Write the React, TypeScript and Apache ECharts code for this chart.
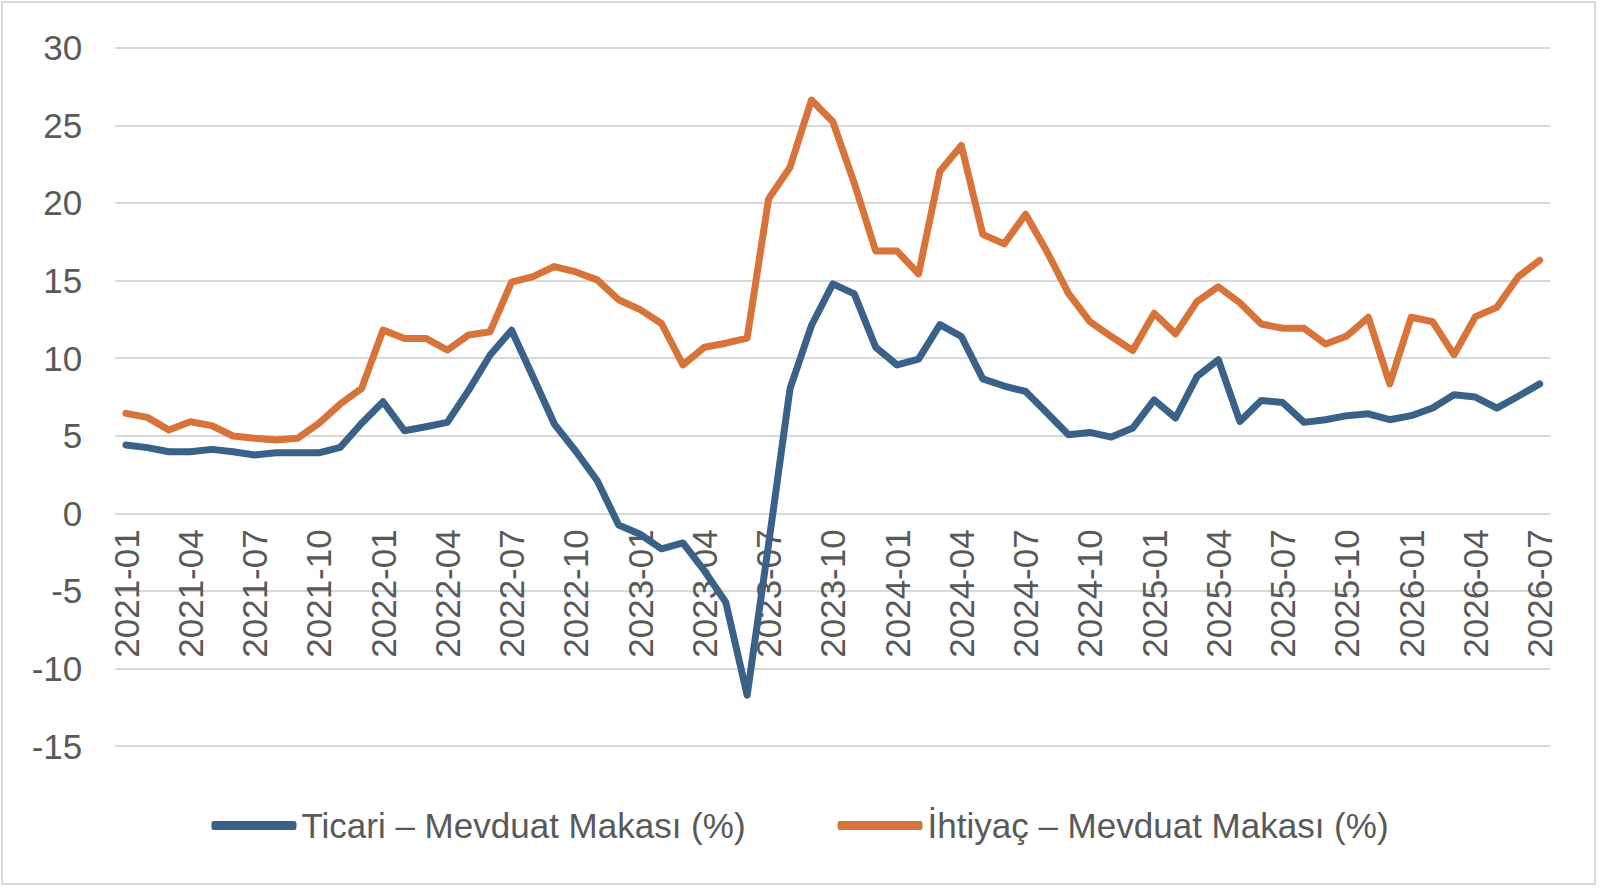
import React, { useEffect, useRef } from "react";
import * as echarts from "echarts";

const categories: string[] = [];
for (let y = 2021; y <= 2026; y++) {
  for (let m = 1; m <= 12; m++) {
    if (y === 2026 && m > 7) break;
    categories.push(`${y}-${String(m).padStart(2, "0")}`);
  }
}

const ticariValues = [
  4.4, 4.23, 3.97, 3.97, 4.12, 3.97, 3.76, 3.9, 3.9, 3.9, 4.25, 5.8,
  7.19, 5.32, 5.58, 5.86, 7.94, 10.2, 11.8, 8.8, 5.75, 4.0, 2.1, -0.75,
  -1.35, -2.29, -1.91, -3.7, -5.73, -11.72, -2.0, 8.03, 12.1, 14.78, 14.14, 10.7,
  9.56, 9.94, 12.16, 11.39, 8.66, 8.2, 7.85, 6.46, 5.06, 5.21, 4.91, 5.49,
  7.31, 6.14, 8.81, 9.89, 5.92, 7.27, 7.14, 5.86, 6.03, 6.29, 6.41, 6.03,
  6.29, 6.78, 7.64, 7.49, 6.78, 7.54, 8.34,
];

const ihtiyacValues = [
  6.44, 6.18, 5.37, 5.9, 5.65, 4.98, 4.83, 4.72, 4.83, 5.8, 7.04, 8.05,
  11.81, 11.27, 11.27, 10.52, 11.49, 11.7, 14.9, 15.25, 15.9, 15.55, 15.04, 13.76,
  13.12, 12.23, 9.56, 10.7, 10.96, 11.29, 20.26, 22.3, 26.63, 25.23, 21.28, 16.9,
  16.9, 15.42, 22.04, 23.7, 17.97, 17.36, 19.27, 16.85, 14.17, 12.35, 11.39, 10.49,
  12.89, 11.56, 13.64, 14.6, 13.57, 12.2, 11.92, 11.92, 10.91, 11.43, 12.63, 8.34,
  12.63, 12.35, 10.21, 12.67, 13.27, 15.24, 16.31,
];

const seriesNames = ["Ticari – Mevduat Makası (%)", "İhtiyaç – Mevduat Makası (%)"];
const seriesColors = ["#3a6187", "#d8733a"];

export default function App() {
  const ref = useRef<HTMLDivElement>(null);
  useEffect(() => {
    if (!ref.current) return;
    const chart = echarts.init(ref.current, undefined, { renderer: "svg" });
    const font = "'Liberation Sans', Arial, sans-serif";
    const gridTop = 47.7;
    const gridBottomPx = 746.1;
    const zeroOffset = -((gridBottomPx - gridTop) * 15) / 45;
    chart.setOption({
      animation: false,
      backgroundColor: "#ffffff",
      graphic: [
        {
          type: "rect",
          shape: { x: 2, y: 2, width: 1593, height: 882 },
          style: { fill: "none", stroke: "#d9d9d9", lineWidth: 2 },
          silent: true,
        },
      ],
      grid: { left: 115.3, right: 49.6, top: gridTop, bottom: 889 - gridBottomPx, containLabel: false },
      legend: {
        top: 803,
        left: "center",
        icon: "roundRect",
        itemWidth: 85,
        itemHeight: 9,
        itemGap: 92,
        textStyle: { fontSize: 35, color: "#595959", fontFamily: font },
        data: seriesNames,
      },
      xAxis: {
        type: "category",
        data: categories,
        boundaryGap: true,
        position: "bottom",
        offset: zeroOffset,
        axisLine: { show: false, onZero: false },
        axisTick: { show: false },
        axisLabel: {
          interval: 2,
          rotate: 90,
          margin: 16,
          fontSize: 35,
          color: "#595959",
          fontFamily: font,
        },
        splitLine: { show: false },
      },
      yAxis: {
        type: "value",
        min: -15,
        max: 30,
        interval: 5,
        axisLine: { show: false },
        axisTick: { show: false },
        axisLabel: { fontSize: 35, color: "#595959", fontFamily: font, margin: 33 },
        splitLine: { lineStyle: { color: "#d9d9d9", width: 2 } },
      },
      series: [
        {
          name: seriesNames[0],
          type: "line",
          data: ticariValues,
          symbol: "none",
          color: seriesColors[0],
          lineStyle: { width: 7, color: seriesColors[0], cap: "round", join: "round" },
          z: 3,
        },
        {
          name: seriesNames[1],
          type: "line",
          data: ihtiyacValues,
          symbol: "none",
          color: seriesColors[1],
          lineStyle: { width: 7, color: seriesColors[1], cap: "round", join: "round" },
          z: 2,
        },
      ],
    });
    return () => chart.dispose();
  }, []);
  return (
    <div
      ref={ref}
      style={{ position: "absolute", left: 0, top: 0, width: 1600, height: 889 }}
    />
  );
}
